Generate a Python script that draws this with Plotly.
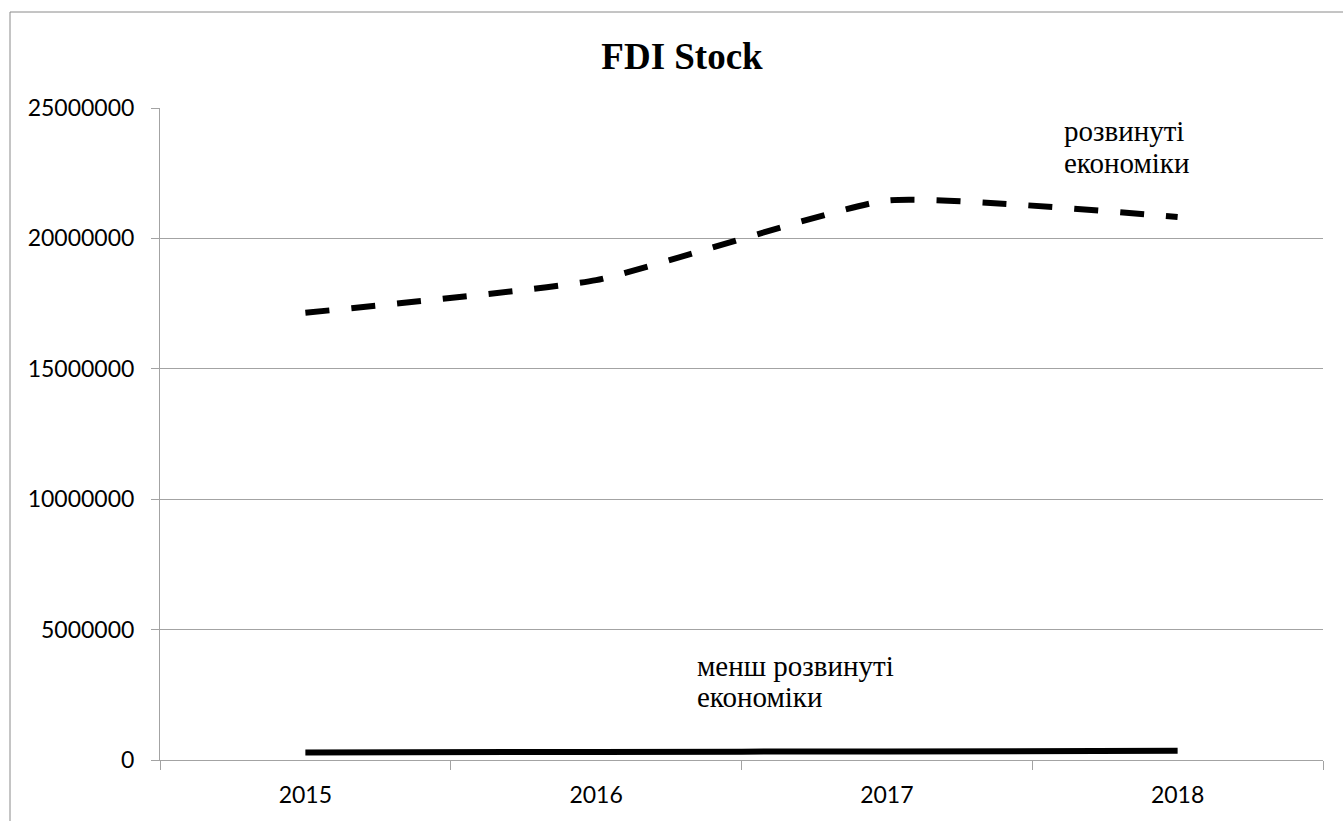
import plotly.graph_objects as go

years = ["2015", "2016", "2017", "2018"]
developed = [17150000, 18400000, 21450000, 20820000]
less_developed = [290000, 310000, 330000, 350000]
y_ticks = [0, 5000000, 10000000, 15000000, 20000000, 25000000]
y_tick_text = [str(v) for v in y_ticks]

W, H = 1343, 821
L, R, T, B = 160, 1323, 108, 760
GRID = "#a3a3a3"


def px(xp):
    return (xp - L) / (R - L)


def py(yp):
    return (B - yp) / (B - T)


fig = go.Figure()
fig.add_trace(go.Scatter(
    x=years, y=developed, mode="lines",
    line=dict(color="black", width=6, dash="24px,22px", shape="spline", smoothing=0.45),
    showlegend=False, hoverinfo="skip"))
fig.add_trace(go.Scatter(
    x=years, y=less_developed, mode="lines",
    line=dict(color="black", width=6, shape="spline", smoothing=0.45),
    showlegend=False, hoverinfo="skip"))

serif = "Liberation Serif, Times New Roman, serif"
ann = []
for text, xp, yp in [("менш розвинуті", 695, 666), ("економіки", 695, 697),
                     ("розвинуті", 1062, 131), ("економіки", 1062, 163)]:
    ann.append(dict(text=text, xref="paper", yref="paper", x=px(xp), y=py(yp),
                    xanchor="left", yanchor="middle", showarrow=False,
                    font=dict(family=serif, size=29, color="black")))

fig.update_layout(
    width=W, height=H,
    margin=dict(l=L, r=W - R, t=T, b=H - B),
    paper_bgcolor="white", plot_bgcolor="white",
    title=dict(text="<b>FDI Stock</b>", x=682 / W, xref="container", xanchor="center",
               y=1 - 56 / H, yref="container", yanchor="middle",
               font=dict(family=serif, size=37, color="black")),
    annotations=ann,
    shapes=[dict(type="rect", xref="paper", yref="paper",
                 x0=px(10), x1=px(1400), y0=py(900), y1=py(12),
                 line=dict(color="#8a8a8a", width=1), fillcolor="rgba(0,0,0,0)", layer="below")],
    xaxis=dict(type="category", range=[-0.5, 3.5], tickson="boundaries",
               ticks="outside", ticklen=9, tickcolor=GRID, tickwidth=1,
               showline=True, linecolor=GRID, linewidth=1, showgrid=False,
               ticklabelstandoff=14,
               tickfont=dict(family="Lato, sans-serif", size=23, color="black")),
    yaxis=dict(range=[0, 25000000], tickvals=y_ticks, ticktext=y_tick_text,
               ticks="outside", ticklen=8, tickcolor=GRID, tickwidth=1,
               showline=True, linecolor=GRID, linewidth=1,
               showgrid=True, gridcolor=GRID, gridwidth=1, zeroline=False,
               ticklabelstandoff=12,
               tickfont=dict(family="Lato, sans-serif", size=23, color="black")),
)

fig.write_html("out.html")
